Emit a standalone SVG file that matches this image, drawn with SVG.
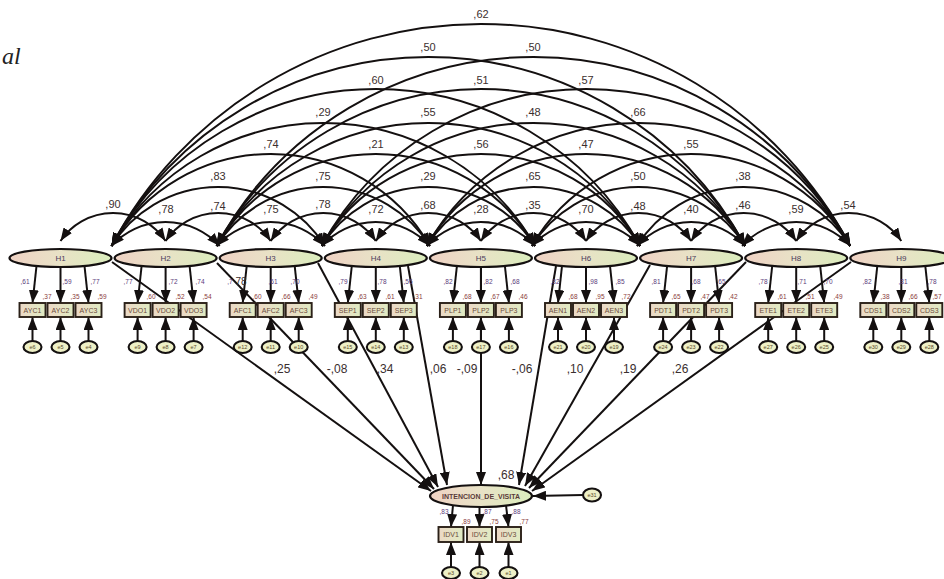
<svg xmlns="http://www.w3.org/2000/svg" width="944" height="579" viewBox="0 0 944 579">
<style>
text{font-family:"Liberation Sans",Arial,sans-serif}
.arc{stroke:#141010;stroke-width:2;fill:none;marker-start:url(#ah2);marker-end:url(#ah2)}
.pa{stroke:#141010;stroke-width:2;fill:none;marker-end:url(#ah)}
.lat{fill:url(#gl);stroke:#141010;stroke-width:2.2}
.box{fill:url(#gb);stroke:#2a2018;stroke-width:1.9}
.err{fill:#eef0c6;stroke:#141010;stroke-width:2.1}
.cl{font-size:11px;fill:#3b2f2f;text-anchor:middle}
.pl{font-size:12px;fill:#3b2f2f;text-anchor:middle}
.ld{font-size:6.5px;fill:#5b3b7b;text-anchor:middle}
.r2{font-size:6.5px;fill:#8b3b3b;text-anchor:middle}
.bt{font-size:7px;fill:#6b4b3b;text-anchor:middle}
.et{font-size:5.5px;fill:#5b4b2b;text-anchor:middle}
.ht{font-size:8px;fill:#4b3b5b;text-anchor:middle}
</style>
<defs>
<linearGradient id="gl" x1="0" y1="0" x2="1" y2="0">
<stop offset="0" stop-color="#efd2c4"/><stop offset="0.5" stop-color="#e8e2c6"/><stop offset="1" stop-color="#dbedbd"/>
</linearGradient>
<linearGradient id="gb" x1="0" y1="0" x2="1" y2="0">
<stop offset="0" stop-color="#ecd8c6"/><stop offset="1" stop-color="#e0ebc2"/>
</linearGradient>
<marker id="ah" viewBox="0 0 13 10" refX="13" refY="5" markerWidth="13" markerHeight="10" markerUnits="userSpaceOnUse" orient="auto"><path d="M0,0L13,5L0,10z" fill="#141010"/></marker>
<marker id="ah2" viewBox="0 0 13 10" refX="13" refY="5" markerWidth="13" markerHeight="10" markerUnits="userSpaceOnUse" orient="auto-start-reverse"><path d="M0,0L13,5L0,10z" fill="#141010"/></marker>
</defs>
<rect width="944" height="579" fill="#ffffff"/>
<text x="2" y="64" style="font-family:'Liberation Serif',serif;font-style:italic;font-size:24px;fill:#222">al</text>

<g id="connectors">
<path class="arc" d="M60.5,241A63.3,63.3 0 0 1 165.6,241"/>
<path class="arc" d="M165.6,241A63.3,63.3 0 0 1 270.7,241"/>
<path class="arc" d="M270.7,241A63.3,63.3 0 0 1 375.8,241"/>
<path class="arc" d="M375.8,241A63.3,63.3 0 0 1 480.9,241"/>
<path class="arc" d="M480.9,241A63.3,63.3 0 0 1 586,241"/>
<path class="arc" d="M586,241A63.3,63.3 0 0 1 691.1,241"/>
<path class="arc" d="M691.1,241A63.3,63.3 0 0 1 796.2,241"/>
<path class="arc" d="M796.2,241A63.3,63.3 0 0 1 901.3,241"/>
<path class="arc" d="M111.5,246A73,73 0 0 1 219.7,246"/>
<path class="arc" d="M216.6,246A73,73 0 0 1 324.8,246"/>
<path class="arc" d="M321.7,246A73,73 0 0 1 429.9,246"/>
<path class="arc" d="M426.8,246A73,73 0 0 1 535,246"/>
<path class="arc" d="M531.9,246A73,73 0 0 1 640.1,246"/>
<path class="arc" d="M637,246A73,73 0 0 1 745.2,246"/>
<path class="arc" d="M742.1,246A73,73 0 0 1 850.3,246"/>
<path class="arc" d="M111.5,246A125.9,125.9 0 0 1 324.8,246"/>
<path class="arc" d="M216.6,246A125.9,125.9 0 0 1 429.9,246"/>
<path class="arc" d="M321.7,246A125.9,125.9 0 0 1 535,246"/>
<path class="arc" d="M426.8,246A125.9,125.9 0 0 1 640.1,246"/>
<path class="arc" d="M531.9,246A125.9,125.9 0 0 1 745.2,246"/>
<path class="arc" d="M637,246A125.9,125.9 0 0 1 850.3,246"/>
<path class="arc" d="M111.5,246A183.7,183.7 0 0 1 429.9,246"/>
<path class="arc" d="M216.6,246A183.7,183.7 0 0 1 535,246"/>
<path class="arc" d="M321.7,246A183.7,183.7 0 0 1 640.1,246"/>
<path class="arc" d="M426.8,246A183.7,183.7 0 0 1 745.2,246"/>
<path class="arc" d="M531.9,246A183.7,183.7 0 0 1 850.3,246"/>
<path class="arc" d="M111.5,246A243.8,243.8 0 0 1 535,246"/>
<path class="arc" d="M216.6,246A243.8,243.8 0 0 1 640.1,246"/>
<path class="arc" d="M321.7,246A243.8,243.8 0 0 1 745.2,246"/>
<path class="arc" d="M426.8,246A243.8,243.8 0 0 1 850.3,246"/>
<path class="arc" d="M111.5,246A301,301 0 0 1 640.1,246"/>
<path class="arc" d="M216.6,246A301,301 0 0 1 745.2,246"/>
<path class="arc" d="M321.7,246A301,301 0 0 1 850.3,246"/>
<path class="arc" d="M111.5,246A360.1,360.1 0 0 1 745.2,246"/>
<path class="arc" d="M216.6,246A360.1,360.1 0 0 1 850.3,246"/>
<path class="arc" d="M111.5,246A418.3,418.3 0 0 1 850.3,246"/>

<path class="pa" d="M112,262L431,491"/>
<path class="pa" d="M217,263L434,489"/>
<path class="pa" d="M318,263L438,487"/>
<path class="pa" d="M408,266L447,485"/>
<path class="pa" d="M481,267L481,485"/>
<path class="pa" d="M556,266L519,485"/>
<path class="pa" d="M650,265L525,486"/>
<path class="pa" d="M746,262L529,488"/>
<path class="pa" d="M851,262L532,491"/>

<path class="pa" d="M36.5,266L32.5,303"/><path class="pa" d="M60.5,267L60.5,303"/><path class="pa" d="M84.5,266L88.5,303"/>
<path class="pa" d="M141.6,266L137.6,303"/><path class="pa" d="M165.6,267L165.6,303"/><path class="pa" d="M189.6,266L193.6,303"/>
<path class="pa" d="M246.7,266L242.7,303"/><path class="pa" d="M270.7,267L270.7,303"/><path class="pa" d="M294.7,266L298.7,303"/>
<path class="pa" d="M351.8,266L347.8,303"/><path class="pa" d="M375.8,267L375.8,303"/><path class="pa" d="M399.8,266L403.8,303"/>
<path class="pa" d="M456.9,266L452.9,303"/><path class="pa" d="M480.9,267L480.9,303"/><path class="pa" d="M504.9,266L508.9,303"/>
<path class="pa" d="M562,266L558,303"/><path class="pa" d="M586,267L586,303"/><path class="pa" d="M610,266L614,303"/>
<path class="pa" d="M667.1,266L663.1,303"/><path class="pa" d="M691.1,267L691.1,303"/><path class="pa" d="M715.1,266L719.1,303"/>
<path class="pa" d="M772.2,266L768.2,303"/><path class="pa" d="M796.2,267L796.2,303"/><path class="pa" d="M820.2,266L824.2,303"/>
<path class="pa" d="M877.3,266L873.3,303"/><path class="pa" d="M901.3,267L901.3,303"/><path class="pa" d="M925.3,266L929.3,303"/>

<path class="pa" d="M32.5,341V317"/><path class="pa" d="M60.5,341V317"/><path class="pa" d="M88.5,341V317"/>
<path class="pa" d="M137.6,341V317"/><path class="pa" d="M165.6,341V317"/><path class="pa" d="M193.6,341V317"/>
<path class="pa" d="M242.7,341V317"/><path class="pa" d="M270.7,341V317"/><path class="pa" d="M298.7,341V317"/>
<path class="pa" d="M347.8,341V317"/><path class="pa" d="M375.8,341V317"/><path class="pa" d="M403.8,341V317"/>
<path class="pa" d="M452.9,341V317"/><path class="pa" d="M480.9,341V317"/><path class="pa" d="M508.9,341V317"/>
<path class="pa" d="M558,341V317"/><path class="pa" d="M586,341V317"/><path class="pa" d="M614,341V317"/>
<path class="pa" d="M663.1,341V317"/><path class="pa" d="M691.1,341V317"/><path class="pa" d="M719.1,341V317"/>
<path class="pa" d="M768.2,341V317"/><path class="pa" d="M796.2,341V317"/><path class="pa" d="M824.2,341V317"/>
<path class="pa" d="M873.3,341V317"/><path class="pa" d="M901.3,341V317"/><path class="pa" d="M929.3,341V317"/>

<path class="pa" d="M583,495L533,496"/>
<path class="pa" d="M453,505L451,527"/><path class="pa" d="M479.5,507L479.5,527"/><path class="pa" d="M506,505L508.5,527"/>
<path class="pa" d="M451,567V542"/><path class="pa" d="M479.5,567V542"/><path class="pa" d="M508.5,567V542"/>
</g>

<g id="labels">
<text class="cl" x="113" y="208">,90</text>
<text class="cl" x="218" y="210">,74</text>
<text class="cl" x="323" y="208">,78</text>
<text class="cl" x="428" y="209">,68</text>
<text class="cl" x="533" y="209">,35</text>
<text class="cl" x="638" y="210">,48</text>
<text class="cl" x="743" y="209">,46</text>
<text class="cl" x="848" y="209">,54</text>
<text class="cl" x="166" y="213">,78</text>
<text class="cl" x="271" y="213">,75</text>
<text class="cl" x="376" y="213">,72</text>
<text class="cl" x="481" y="213">,28</text>
<text class="cl" x="586" y="213">,70</text>
<text class="cl" x="691" y="213">,40</text>
<text class="cl" x="796" y="213">,59</text>
<text class="cl" x="218" y="180">,83</text>
<text class="cl" x="323" y="180">,75</text>
<text class="cl" x="428" y="180">,29</text>
<text class="cl" x="533" y="180">,65</text>
<text class="cl" x="638" y="180">,50</text>
<text class="cl" x="743" y="180">,38</text>
<text class="cl" x="271" y="148">,74</text>
<text class="cl" x="376" y="148">,21</text>
<text class="cl" x="481" y="148">,56</text>
<text class="cl" x="586" y="148">,47</text>
<text class="cl" x="691" y="148">,55</text>
<text class="cl" x="323" y="116">,29</text>
<text class="cl" x="428" y="116">,55</text>
<text class="cl" x="533" y="116">,48</text>
<text class="cl" x="638" y="116">,66</text>
<text class="cl" x="376" y="84">,60</text>
<text class="cl" x="481" y="84">,51</text>
<text class="cl" x="586" y="84">,57</text>
<text class="cl" x="428" y="51">,50</text>
<text class="cl" x="533" y="51">,50</text>
<text class="cl" x="481" y="18">,62</text>

<text class="pl" x="282" y="373">,25</text>
<text class="pl" x="337" y="373">-,08</text>
<text class="pl" x="385" y="373">,34</text>
<text class="pl" x="438" y="373">,06</text>
<text class="pl" x="467" y="373">-,09</text>
<text class="pl" x="522" y="373">-,06</text>
<text class="pl" x="575" y="373">,10</text>
<text class="pl" x="628" y="373">,19</text>
<text class="pl" x="680" y="373">,26</text>
<text class="pl" x="506" y="479">,68</text>

<text class="ld" x="25" y="284">,61</text><text class="ld" x="67" y="284">,59</text><text class="ld" x="95" y="284">,77</text>
<text class="r2" x="47" y="299">,37</text><text class="r2" x="75" y="299">,35</text><text class="r2" x="102" y="299">,59</text>
<text class="ld" x="128" y="284">,77</text><text class="ld" x="173" y="284">,72</text><text class="ld" x="200" y="284">,74</text>
<text class="r2" x="151" y="299">,60</text><text class="r2" x="180" y="299">,52</text><text class="r2" x="207" y="299">,54</text>
<text class="ld" x="230" y="284">,7</text><text x="241" y="285" style="font-size:10px;fill:#3b2f2f;text-anchor:middle">78</text><text class="ld" x="273" y="284">,61</text><text class="ld" x="295" y="284">,70</text>
<text class="r2" x="257" y="299">,60</text><text class="r2" x="286" y="299">,66</text><text class="r2" x="313" y="299">,49</text>
<text class="ld" x="343" y="284">,79</text><text class="ld" x="382" y="284">,78</text><text class="ld" x="408" y="284">,56</text>
<text class="r2" x="362" y="299">,63</text><text class="r2" x="390" y="299">,61</text><text class="r2" x="418" y="299">,31</text>
<text class="ld" x="448" y="284">,82</text><text class="ld" x="488" y="284">,82</text><text class="ld" x="515" y="284">,68</text>
<text class="r2" x="467" y="299">,68</text><text class="r2" x="495" y="299">,67</text><text class="r2" x="523" y="299">,46</text>
<text class="ld" x="555" y="284">,82</text><text class="ld" x="593" y="284">,98</text><text class="ld" x="620" y="284">,85</text>
<text class="r2" x="573" y="299">,68</text><text class="r2" x="600" y="299">,95</text><text class="r2" x="626" y="299">,72</text>
<text class="ld" x="656" y="284">,81</text><text class="ld" x="696" y="284">,68</text><text class="ld" x="721" y="284">,65</text>
<text class="r2" x="676" y="299">,65</text><text class="r2" x="705" y="299">,47</text><text class="r2" x="733" y="299">,42</text>
<text class="ld" x="763" y="284">,78</text><text class="ld" x="802" y="284">,71</text><text class="ld" x="828" y="284">,70</text>
<text class="r2" x="782" y="299">,61</text><text class="r2" x="810" y="299">,51</text><text class="r2" x="838" y="299">,49</text>
<text class="ld" x="867" y="284">,82</text><text class="ld" x="903" y="284">,81</text><text class="ld" x="932" y="284">,78</text>
<text class="r2" x="885" y="299">,38</text><text class="r2" x="913" y="299">,66</text><text class="r2" x="937" y="299">,57</text>

<text class="ld" x="444" y="514">,83</text><text class="ld" x="487" y="514">,87</text><text class="ld" x="516" y="514">,88</text>
<text class="r2" x="466" y="524">,89</text><text class="r2" x="494" y="524">,75</text><text class="r2" x="524" y="524">,77</text>
</g>

<g id="H1"><ellipse class="lat" cx="60.5" cy="258" rx="51" ry="9"/><text class="ht" x="60.5" y="261">H1</text></g>
<g id="H2"><ellipse class="lat" cx="165.6" cy="258" rx="51" ry="9"/><text class="ht" x="165.6" y="261">H2</text></g>
<g id="H3"><ellipse class="lat" cx="270.7" cy="258" rx="51" ry="9"/><text class="ht" x="270.7" y="261">H3</text></g>
<g id="H4"><ellipse class="lat" cx="375.8" cy="258" rx="51" ry="9"/><text class="ht" x="375.8" y="261">H4</text></g>
<g id="H5"><ellipse class="lat" cx="480.9" cy="258" rx="51" ry="9"/><text class="ht" x="480.9" y="261">H5</text></g>
<g id="H6"><ellipse class="lat" cx="586" cy="258" rx="51" ry="9"/><text class="ht" x="586" y="261">H6</text></g>
<g id="H7"><ellipse class="lat" cx="691.1" cy="258" rx="51" ry="9"/><text class="ht" x="691.1" y="261">H7</text></g>
<g id="H8"><ellipse class="lat" cx="796.2" cy="258" rx="51" ry="9"/><text class="ht" x="796.2" y="261">H8</text></g>
<g id="H9"><ellipse class="lat" cx="901.3" cy="258" rx="51" ry="9"/><text class="ht" x="901.3" y="261">H9</text></g>

<g id="AYC1"><rect class="box" x="19.5" y="303" width="26" height="14"/><text class="bt" x="32.5" y="312.5">AYC1</text></g>
<g id="AYC2"><rect class="box" x="47.5" y="303" width="26" height="14"/><text class="bt" x="60.5" y="312.5">AYC2</text></g>
<g id="AYC3"><rect class="box" x="75.5" y="303" width="26" height="14"/><text class="bt" x="88.5" y="312.5">AYC3</text></g>
<g id="VDO1"><rect class="box" x="124.6" y="303" width="26" height="14"/><text class="bt" x="137.6" y="312.5">VDO1</text></g>
<g id="VDO2"><rect class="box" x="152.6" y="303" width="26" height="14"/><text class="bt" x="165.6" y="312.5">VDO2</text></g>
<g id="VDO3"><rect class="box" x="180.6" y="303" width="26" height="14"/><text class="bt" x="193.6" y="312.5">VDO3</text></g>
<g id="AFC1"><rect class="box" x="229.7" y="303" width="26" height="14"/><text class="bt" x="242.7" y="312.5">AFC1</text></g>
<g id="AFC2"><rect class="box" x="257.7" y="303" width="26" height="14"/><text class="bt" x="270.7" y="312.5">AFC2</text></g>
<g id="AFC3"><rect class="box" x="285.7" y="303" width="26" height="14"/><text class="bt" x="298.7" y="312.5">AFC3</text></g>
<g id="SEP1"><rect class="box" x="334.8" y="303" width="26" height="14"/><text class="bt" x="347.8" y="312.5">SEP1</text></g>
<g id="SEP2"><rect class="box" x="362.8" y="303" width="26" height="14"/><text class="bt" x="375.8" y="312.5">SEP2</text></g>
<g id="SEP3"><rect class="box" x="390.8" y="303" width="26" height="14"/><text class="bt" x="403.8" y="312.5">SEP3</text></g>
<g id="PLP1"><rect class="box" x="439.9" y="303" width="26" height="14"/><text class="bt" x="452.9" y="312.5">PLP1</text></g>
<g id="PLP2"><rect class="box" x="467.9" y="303" width="26" height="14"/><text class="bt" x="480.9" y="312.5">PLP2</text></g>
<g id="PLP3"><rect class="box" x="495.9" y="303" width="26" height="14"/><text class="bt" x="508.9" y="312.5">PLP3</text></g>
<g id="AEN1"><rect class="box" x="545" y="303" width="26" height="14"/><text class="bt" x="558" y="312.5">AEN1</text></g>
<g id="AEN2"><rect class="box" x="573" y="303" width="26" height="14"/><text class="bt" x="586" y="312.5">AEN2</text></g>
<g id="AEN3"><rect class="box" x="601" y="303" width="26" height="14"/><text class="bt" x="614" y="312.5">AEN3</text></g>
<g id="PDT1"><rect class="box" x="650.1" y="303" width="26" height="14"/><text class="bt" x="663.1" y="312.5">PDT1</text></g>
<g id="PDT2"><rect class="box" x="678.1" y="303" width="26" height="14"/><text class="bt" x="691.1" y="312.5">PDT2</text></g>
<g id="PDT3"><rect class="box" x="706.1" y="303" width="26" height="14"/><text class="bt" x="719.1" y="312.5">PDT3</text></g>
<g id="ETE1"><rect class="box" x="755.2" y="303" width="26" height="14"/><text class="bt" x="768.2" y="312.5">ETE1</text></g>
<g id="ETE2"><rect class="box" x="783.2" y="303" width="26" height="14"/><text class="bt" x="796.2" y="312.5">ETE2</text></g>
<g id="ETE3"><rect class="box" x="811.2" y="303" width="26" height="14"/><text class="bt" x="824.2" y="312.5">ETE3</text></g>
<g id="CDS1"><rect class="box" x="860.3" y="303" width="26" height="14"/><text class="bt" x="873.3" y="312.5">CDS1</text></g>
<g id="CDS2"><rect class="box" x="888.3" y="303" width="26" height="14"/><text class="bt" x="901.3" y="312.5">CDS2</text></g>
<g id="CDS3"><rect class="box" x="916.3" y="303" width="26" height="14"/><text class="bt" x="929.3" y="312.5">CDS3</text></g>

<g id="e6"><ellipse class="err" cx="32.5" cy="347" rx="9" ry="6"/><text class="et" x="32.5" y="349">e6</text></g>
<g id="e5"><ellipse class="err" cx="60.5" cy="347" rx="9" ry="6"/><text class="et" x="60.5" y="349">e5</text></g>
<g id="e4"><ellipse class="err" cx="88.5" cy="347" rx="9" ry="6"/><text class="et" x="88.5" y="349">e4</text></g>
<g id="e9"><ellipse class="err" cx="137.6" cy="347" rx="9" ry="6"/><text class="et" x="137.6" y="349">e9</text></g>
<g id="e8"><ellipse class="err" cx="165.6" cy="347" rx="9" ry="6"/><text class="et" x="165.6" y="349">e8</text></g>
<g id="e7"><ellipse class="err" cx="193.6" cy="347" rx="9" ry="6"/><text class="et" x="193.6" y="349">e7</text></g>
<g id="e12"><ellipse class="err" cx="242.7" cy="347" rx="9" ry="6"/><text class="et" x="242.7" y="349">e12</text></g>
<g id="e11"><ellipse class="err" cx="270.7" cy="347" rx="9" ry="6"/><text class="et" x="270.7" y="349">e11</text></g>
<g id="e10"><ellipse class="err" cx="298.7" cy="347" rx="9" ry="6"/><text class="et" x="298.7" y="349">e10</text></g>
<g id="e15"><ellipse class="err" cx="347.8" cy="347" rx="9" ry="6"/><text class="et" x="347.8" y="349">e15</text></g>
<g id="e14"><ellipse class="err" cx="375.8" cy="347" rx="9" ry="6"/><text class="et" x="375.8" y="349">e14</text></g>
<g id="e13"><ellipse class="err" cx="403.8" cy="347" rx="9" ry="6"/><text class="et" x="403.8" y="349">e13</text></g>
<g id="e18"><ellipse class="err" cx="452.9" cy="347" rx="9" ry="6"/><text class="et" x="452.9" y="349">e18</text></g>
<g id="e17"><ellipse class="err" cx="480.9" cy="347" rx="9" ry="6"/><text class="et" x="480.9" y="349">e17</text></g>
<g id="e16"><ellipse class="err" cx="508.9" cy="347" rx="9" ry="6"/><text class="et" x="508.9" y="349">e16</text></g>
<g id="e21"><ellipse class="err" cx="558" cy="347" rx="9" ry="6"/><text class="et" x="558" y="349">e21</text></g>
<g id="e20"><ellipse class="err" cx="586" cy="347" rx="9" ry="6"/><text class="et" x="586" y="349">e20</text></g>
<g id="e19"><ellipse class="err" cx="614" cy="347" rx="9" ry="6"/><text class="et" x="614" y="349">e19</text></g>
<g id="e24"><ellipse class="err" cx="663.1" cy="347" rx="9" ry="6"/><text class="et" x="663.1" y="349">e24</text></g>
<g id="e23"><ellipse class="err" cx="691.1" cy="347" rx="9" ry="6"/><text class="et" x="691.1" y="349">e23</text></g>
<g id="e22"><ellipse class="err" cx="719.1" cy="347" rx="9" ry="6"/><text class="et" x="719.1" y="349">e22</text></g>
<g id="e27"><ellipse class="err" cx="768.2" cy="347" rx="9" ry="6"/><text class="et" x="768.2" y="349">e27</text></g>
<g id="e26"><ellipse class="err" cx="796.2" cy="347" rx="9" ry="6"/><text class="et" x="796.2" y="349">e26</text></g>
<g id="e25"><ellipse class="err" cx="824.2" cy="347" rx="9" ry="6"/><text class="et" x="824.2" y="349">e25</text></g>
<g id="e30"><ellipse class="err" cx="873.3" cy="347" rx="9" ry="6"/><text class="et" x="873.3" y="349">e30</text></g>
<g id="e29"><ellipse class="err" cx="901.3" cy="347" rx="9" ry="6"/><text class="et" x="901.3" y="349">e29</text></g>
<g id="e28"><ellipse class="err" cx="929.3" cy="347" rx="9" ry="6"/><text class="et" x="929.3" y="349">e28</text></g>

<g id="INTENCION_DE_VISITA"><ellipse class="lat" cx="481" cy="496" rx="51" ry="11"/><text x="481" y="499" style="font-size:7px;font-weight:bold;fill:#5a3a3a;text-anchor:middle">INTENCION_DE_VISITA</text></g>
<g id="e31"><ellipse class="err" cx="592" cy="495" rx="9" ry="6.5"/><text class="et" x="592" y="497">e31</text></g>
<g id="IDV1"><rect class="box" x="438.5" y="527" width="25" height="15"/><text class="bt" x="451" y="537">IDV1</text></g>
<g id="IDV2"><rect class="box" x="467" y="527" width="25" height="15"/><text class="bt" x="479.5" y="537">IDV2</text></g>
<g id="IDV3"><rect class="box" x="496" y="527" width="25" height="15"/><text class="bt" x="508.5" y="537">IDV3</text></g>
<g id="e3"><ellipse class="err" cx="451" cy="573" rx="9" ry="6"/><text class="et" x="451" y="575">e3</text></g>
<g id="e2"><ellipse class="err" cx="479.5" cy="573" rx="9" ry="6"/><text class="et" x="479.5" y="575">e2</text></g>
<g id="e1"><ellipse class="err" cx="508.5" cy="573" rx="9" ry="6"/><text class="et" x="508.5" y="575">e1</text></g>
</svg>
